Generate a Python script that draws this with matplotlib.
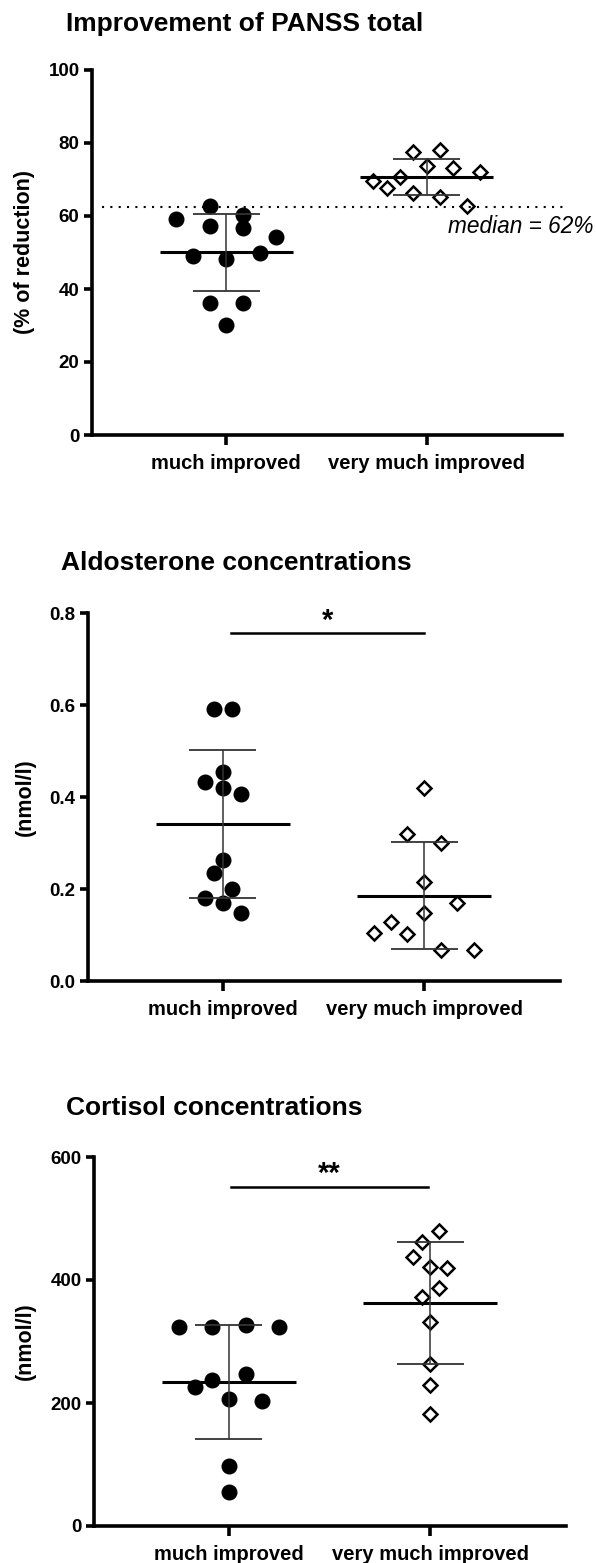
import numpy as np
import matplotlib
matplotlib.use('Agg')
import matplotlib.pyplot as plt

plt.rcParams['font.family'] = ['Liberation Sans', 'DejaVu Sans']

categories = ['much improved', 'very much improved']

# PANSS improvement (% of reduction)
panss_much = [62.7, 59.2, 57.3, 60.3, 56.7, 54.2, 49.0, 48.2, 49.9, 36.2, 36.2, 30.1]
panss_much_jit = [-0.083, -0.25, -0.083, 0.083, 0.083, 0.25, -0.167, 0, 0.167, -0.083, 0.083, 0]
panss_very = [69.6, 67.7, 70.7, 77.5, 73.7, 78.1, 66.3, 65.2, 73.2, 72.1, 62.7]
panss_very_jit = [-0.267, -0.2, -0.133, -0.067, 0, 0.067, -0.067, 0.067, 0.133, 0.267, 0.2]
panss_median = 62.5

# Aldosterone (nmol/l)
aldo_much = [0.591, 0.591, 0.455, 0.433, 0.420, 0.407, 0.263, 0.235, 0.200, 0.180, 0.170, 0.148]
aldo_much_jit = [-0.044, 0.044, 0, -0.088, 0, 0.088, 0, -0.044, 0.044, -0.088, 0, 0.088]
aldo_very = [0.420, 0.320, 0.300, 0.215, 0.170, 0.148, 0.128, 0.104, 0.102, 0.067, 0.067]
aldo_very_jit = [0, -0.083, 0.083, 0, 0.165, 0, -0.165, -0.25, -0.083, 0.083, 0.25]

# Cortisol (nmol/l)
cort_much = [324, 324, 327, 324, 247, 237, 226, 207, 203, 98, 55]
cort_much_jit = [-0.25, -0.083, 0.083, 0.25, 0.083, -0.083, -0.167, 0, 0.167, 0, 0]
cort_very = [480, 462, 437, 421, 419, 387, 373, 332, 263, 229, 182]
cort_very_jit = [0.042, -0.042, -0.083, 0, 0.083, 0.042, -0.042, 0, 0, 0, 0]

W, H = 596, 1563
fig = plt.figure(figsize=(W / 100, H / 100), dpi=100)


def px_rect(left, top, right, bottom):
    return [left / W, 1 - bottom / H, (right - left) / W, (bottom - top) / H]


def mean_sd(ax, vals, pos):
    m = np.mean(vals)
    sd = np.std(vals, ddof=1)
    ax.hlines(m, pos - 0.333, pos + 0.333, color='black', lw=2.2, zorder=4)
    ax.vlines(pos, m - sd, m + sd, color='#333333', lw=1.1, zorder=4)
    ax.hlines([m - sd, m + sd], pos - 0.167, pos + 0.167, color='#333333', lw=1.3, zorder=4)


def panel(rect, title, title_xy, ylabel, much, much_jit, very, very_jit, ylim, yticks, fmt):
    ax = fig.add_axes(px_rect(*rect))
    ax.plot(1 + np.array(much_jit), much, 'o', color='black', markersize=10.5, zorder=3)
    ax.plot(2 + np.array(very_jit), very, 'D', mfc='white', mec='black', mew=1.8,
            markersize=7.4, zorder=3)
    mean_sd(ax, much, 1)
    mean_sd(ax, very, 2)
    ax.set_xlim(0.33, 2.675)
    ax.set_ylim(*ylim)
    ax.set_yticks(yticks)
    ax.set_yticklabels([fmt.format(t) for t in yticks], fontsize=13.5, fontweight='bold')
    ax.set_xticks([1, 2])
    ax.set_xticklabels(categories, fontsize=14.5, fontweight='bold')
    for s in ['top', 'right']:
        ax.spines[s].set_visible(False)
    for s in ['left', 'bottom']:
        ax.spines[s].set_linewidth(2.6)
    ax.tick_params(axis='y', length=6, width=2.6, pad=3)
    ax.tick_params(axis='x', length=7.5, width=2.6, pad=6)
    fig.text(title_xy[0] / W, 1 - title_xy[1] / H, title, fontsize=19, fontweight='bold',
             ha='left', va='center')
    ymid = (rect[1] + rect[3]) / 2
    fig.text(25 / W, 1 - ymid / H, ylabel, rotation=90, fontsize=15.5, fontweight='bold',
             ha='center', va='center')
    return ax


ax1 = panel((92, 70, 562, 435), 'Improvement of PANSS total', (66, 24), '(% of reduction)',
            panss_much, panss_much_jit, panss_very, panss_very_jit,
            (0, 100), [0, 20, 40, 60, 80, 100], '{:d}')
ax1.plot([0.38, 2.7], [panss_median, panss_median], color='black', lw=1.5,
         linestyle=(0, (1, 3)), clip_on=False, zorder=5)
ax1.text(2.83, panss_median - 2.3, 'median = 62%', fontsize=16.3, style='italic',
         ha='right', va='top')

ax2 = panel((88, 613, 560, 981), 'Aldosterone concentrations', (61, 563), '(nmol/l)',
            aldo_much, aldo_much_jit, aldo_very, aldo_very_jit,
            (0, 0.8), [0.0, 0.2, 0.4, 0.6, 0.8], '{:.1f}')
ax2.plot([1.04, 2.0], [0.757, 0.757], color='black', lw=1.8)
ax2.text(1.52, 0.765, '*', fontsize=21, fontweight='bold', ha='center', va='baseline')

ax3 = panel((94, 1157, 566, 1526), 'Cortisol concentrations', (66, 1108), '(nmol/l)',
            cort_much, cort_much_jit, cort_very, cort_very_jit,
            (0, 600), [0, 200, 400, 600], '{:d}')
ax3.plot([1.01, 1.99], [551, 551], color='black', lw=1.8)
ax3.text(1.5, 559, '**', fontsize=21, fontweight='bold', ha='center', va='baseline')

fig.savefig('out.png', dpi=100)
